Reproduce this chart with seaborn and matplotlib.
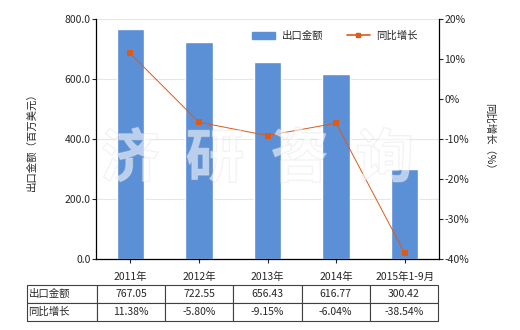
import numpy as np
import pandas as pd
import matplotlib
matplotlib.use("Agg")
import matplotlib.pyplot as plt
import matplotlib.patheffects as pe
import seaborn as sns

categories = ["2011年", "2012年", "2013年", "2014年", "2015年1-9月"]
export_values = [767.05, 722.55, 656.43, 616.77, 300.42]
growth_values = [11.38, -5.80, -9.15, -6.04, -38.54]
export_labels = ["767.05", "722.55", "656.43", "616.77", "300.42"]
growth_labels = ["11.38%", "-5.80%", "-9.15%", "-6.04%", "-38.54%"]
left_ticks = [0, 200, 400, 600, 800]
right_ticks = [-40, -30, -20, -10, 0, 10, 20]

sns.set_style("white")
plt.rcParams['font.family'] = ['Noto Sans CJK SC', 'DejaVu Sans']
plt.rcParams['axes.unicode_minus'] = False

BAR = "#5b8fd6"
LINE = "#dd5a17"
FS = 7.5

fig = plt.figure(figsize=(5.2, 3.3), dpi=100)
ax = fig.add_axes([96/520, 1-259/330, (439-96)/520, 240/330])

df = pd.DataFrame({"cat": categories, "val": export_values})
sns.barplot(data=df, x="cat", y="val", color=BAR, width=0.4, saturation=1, ax=ax, zorder=2)
ax.set_xlim(-0.5, 4.5)
ax.set_ylim(0, 800)
ax.set_yticks(left_ticks)
ax.set_yticklabels([f"{v:.1f}" for v in left_ticks], fontsize=FS)
ax.tick_params(axis='x', labelsize=FS, length=3, direction='out', pad=6)
ax.tick_params(axis='y', length=3, direction='out', pad=1)
ax.xaxis.set_ticks_position('bottom')
ax.yaxis.set_ticks_position('left')
ax.set_xlabel("")
ax.set_ylabel("出口金额（百万美元）", fontsize=FS, labelpad=20)
ax.grid(axis='y', color='#e6e6e6', linewidth=0.8, zorder=0)
ax.set_axisbelow(True)
for s in ['top', 'right']:
    ax.spines[s].set_visible(False)
for s in ['left', 'bottom']:
    ax.spines[s].set_color('black')
    ax.spines[s].set_linewidth(0.9)

ax2 = ax.twinx()
sns.lineplot(x=np.arange(len(categories)), y=growth_values, ax=ax2, color=LINE,
             linewidth=0.7, marker='s', markersize=4, markeredgewidth=0, zorder=3)
ax2.set_ylim(-40, 20)
ax2.set_yticks(right_ticks)
ax2.set_yticklabels([f"{v}%" for v in right_ticks], fontsize=FS)
ax2.tick_params(axis='y', length=3, direction='out', pad=1)
ax2.set_ylabel("同比增长（%）", fontsize=FS, rotation=-90, labelpad=18)
for s in ['top', 'left', 'bottom']:
    ax2.spines[s].set_visible(False)
ax2.spines['right'].set_color('black')
ax2.spines['right'].set_linewidth(0.9)

# legend
from matplotlib.patches import Patch
from matplotlib.lines import Line2D
handles = [Patch(color=BAR, label="出口金额"),
           Line2D([0], [0], color=LINE, lw=1.2, marker='s', markersize=3, label="同比增长")]
ax2.legend(handles=handles, loc='upper right', bbox_to_anchor=(0.965, 0.99), ncol=2,
           frameon=False, fontsize=FS, handlelength=2.2, columnspacing=2.3, handletextpad=0.6)

# watermark
fig.text(0.495, 0.515, "济  研  咨  询", fontsize=42, color='white', alpha=0.35,
         ha='center', va='center', fontweight='bold', zorder=10,
         path_effects=[pe.withStroke(linewidth=1.0, foreground='#d8d8d8', alpha=0.35)])

# table
cell_text = [["出口金额"] + export_labels, ["同比增长"] + growth_labels]
x0 = (27-96)/343
x1 = (438-96)/343
y_top = (259-285)/240
y_bot = (259-321)/240
tbl = ax.table(cellText=cell_text, cellLoc='center',
               bbox=[x0, y_bot, x1-x0, y_top-y_bot])
tbl.auto_set_font_size(False)
tbl.set_fontsize(FS)
first_w = 70/411
other_w = (1-first_w)/5
for (r, c), cell in tbl.get_celld().items():
    cell.set_edgecolor('#404040')
    cell.set_linewidth(0.8)
    cell.set_width(first_w if c == 0 else other_w)
    if c == 0:
        cell.set_text_props(ha='left')
        cell.PAD = 0.02

fig.savefig("out.png", dpi=100)
